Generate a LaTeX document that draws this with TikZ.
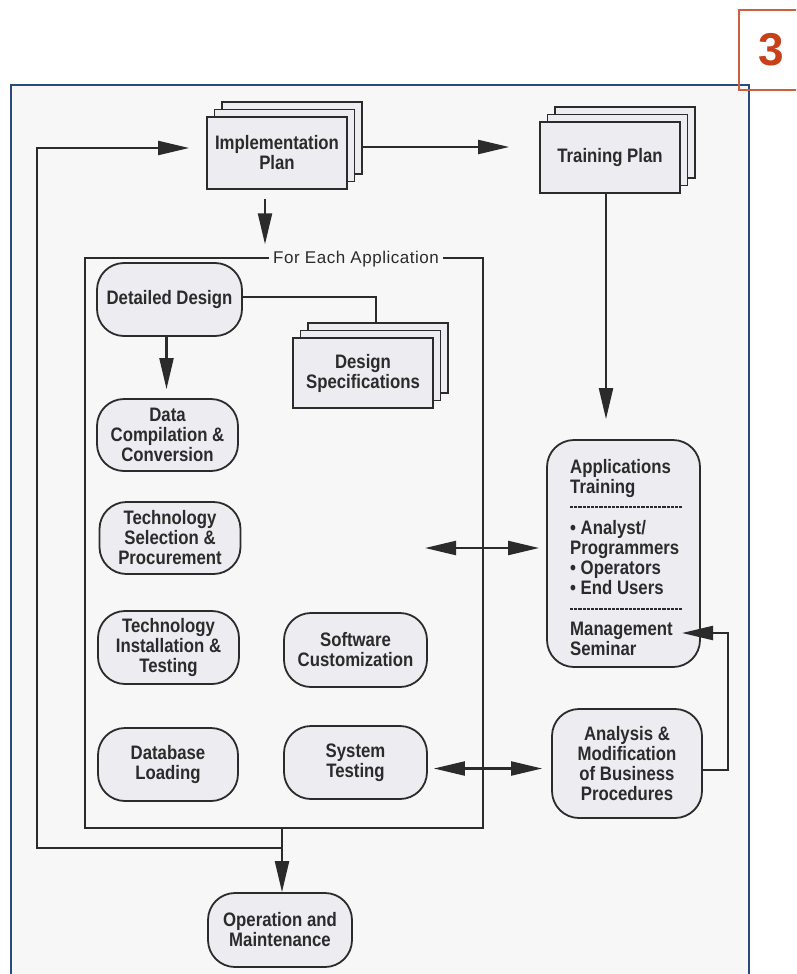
\documentclass[tikz,border=0pt]{standalone}
\usepackage{fontspec}
\setmainfont{Liberation Sans}[FakeStretch=0.86]
\newfontfamily\framefont{Liberation Sans}[LetterSpace=3]
\newfontfamily\numfont{Liberation Sans}
\usetikzlibrary{arrows.meta}

\definecolor{pagebg}{HTML}{F7F7F8}
\definecolor{boxfill}{HTML}{EDEDF1}
\definecolor{ink}{HTML}{2B2B2B}
\definecolor{frameblue}{HTML}{294A7A}
\definecolor{tagred}{HTML}{C8401A}

\tikzset{
  boxtext/.style={font=\fontsize{19.5pt}{20pt}\selectfont\bfseries, text=ink, align=center},
  procbox/.style={boxtext, draw=ink, line width=1.8pt, fill=boxfill, rounded corners=27pt, inner sep=2pt},
  docbox/.style={boxtext, draw=ink, line width=1.8pt, fill=boxfill, inner sep=2pt},
  docsheet/.style={draw=ink, line width=1.8pt, fill=boxfill},
  conn/.style={draw=ink, line width=2.2pt},
  arr/.style={conn, -{Triangle[length=31pt,width=14pt]}},
  darr/.style={conn, {Triangle[length=31pt,width=14pt]}-{Triangle[length=31pt,width=14pt]}},
  sepdash/.style={draw=ink, line width=1.7pt, dash pattern=on 3.2pt off 1pt},
}

% stacked document: name, centre x, centre y, width, height, text
\newcommand\docstack[6]{%
  \foreach \k in {2,1}{%
    \draw[docsheet] ({#2+7.5*\k-#4/2},{#3-7.5*\k-#5/2}) rectangle ++(#4,#5);}
  \node[docbox, minimum width=#4pt, minimum height=#5pt] (#1) at (#2,#3) {#6};}

\begin{document}
\begin{tikzpicture}[x=1pt, y=-1pt]
\useasboundingbox (0,0) rectangle (796,974);
\clip (0,0) rectangle (796,974);
\fill[white] (0,0) rectangle (796,974);

% outer frame and page tag
\draw[frameblue, line width=2pt, fill=pagebg] (11,85) rectangle (749,1000);
\draw[tagred!85!white, line width=1.5pt] (739,10) rectangle (820,90);
\node[font=\numfont\fontsize{46pt}{46pt}\selectfont\bfseries, text=tagred] (tag) at (771,50) {3};

% plans
\docstack{impl}{277}{153}{140}{72}{Implementation\\Plan}
\docstack{train}{610}{157.5}{140}{71}{Training Plan}

% per-application frame
\node[draw=ink, line width=1.4pt, minimum width=398pt, minimum height=570pt, inner sep=0] (each) at (284,543) {};
\node[fill=pagebg, font=\framefont\fontsize{17pt}{17pt}\selectfont, text=ink, inner xsep=4pt, inner ysep=1pt] (eachlabel) at (356,259) {For Each Application};

% activities
\node[procbox, minimum width=145pt, minimum height=73pt] (detail) at (169.5,299.5) {Detailed Design};
\docstack{spec}{363}{373}{140}{70}{Design\\Specifications}
\node[procbox, minimum width=141pt, minimum height=72pt] (datac) at (167.5,435) {Data\\Compilation \&\\Conversion};
\node[procbox, minimum width=141pt, minimum height=72pt] (techsel) at (170,538) {Technology\\Selection \&\\Procurement};
\node[procbox, minimum width=141pt, minimum height=73pt] (techinst) at (168.5,647.5) {Technology\\Installation \&\\Testing};
\node[procbox, minimum width=143pt, minimum height=74pt] (softc) at (355.5,650) {Software\\Customization};
\node[procbox, minimum width=140pt, minimum height=73pt] (dbload) at (168,764.5) {Database\\Loading};
\node[procbox, minimum width=143pt, minimum height=73pt] (systest) at (355.5,762.5) {System\\Testing};

% training and business procedures
\node[procbox, minimum width=153pt, minimum height=227pt] (apptr) at (623.5,553.5) {};
\node[boxtext, align=left, anchor=north west, inner sep=0] (apptrtext) at (570,459)
  {Applications\\Training\\[21pt]\textbullet\ Analyst/\\Programmers\\\textbullet\ Operators\\\textbullet\ End Users\\[21pt]Management\\Seminar};
\draw[sepdash] (570,507) -- (682,507);
\draw[sepdash] (570,609) -- (682,609);
\node[procbox, minimum width=150pt, minimum height=109pt] (busproc) at (627,763.5) {Analysis \&\\Modification\\of Business\\Procedures};

\node[procbox, minimum width=144pt, minimum height=74pt] (opmaint) at (280,930) {Operation and\\Maintenance};

% connectors
\draw[arr, shorten <=14pt, shorten >=30pt] ([yshift=6pt]impl.east) -- ([yshift=6pt]impl.east -| train.west);
\draw[arr, shorten <=9pt, shorten >=13pt] ([xshift=-12pt]impl.south) -- ([xshift=-12pt]impl.south |- each.north);
\draw[conn] ([yshift=2.5pt]detail.east) -| ([xshift=13pt,yshift=15pt]spec.north);
\draw[arr, shorten >=9pt] ([xshift=-3pt]detail.south) -- ([xshift=-3pt]detail.south |- datac.north);
\draw[arr, shorten >=20pt] ([xshift=-4pt]train.south) -- ([xshift=-4pt]train.south |- apptr.north);
\coordinate (eachin) at (425,548);
\draw[darr, shorten >=7pt] (eachin) -- (eachin -| apptr.west);
\draw[darr, shorten <=6pt, shorten >=9pt] ([yshift=-6pt]systest.east) -- ([yshift=-6pt]systest.east -| busproc.west);
\coordinate (loopx) at (728,633);
\coordinate (mgmt) at (682,633);
\draw[arr] ([yshift=-6.5pt]busproc.east) -| (loopx) -- (mgmt);
\draw[arr] ([xshift=-2pt]each.south) -- ([xshift=-2pt]each.south |- opmaint.north);
\coordinate (fbjoin) at (282,848);
\coordinate (fbleft) at (37,848);
\draw[arr, shorten >=17pt] (fbjoin) -- (fbleft) |- ([yshift=5pt]impl.west);
\end{tikzpicture}
\end{document}
